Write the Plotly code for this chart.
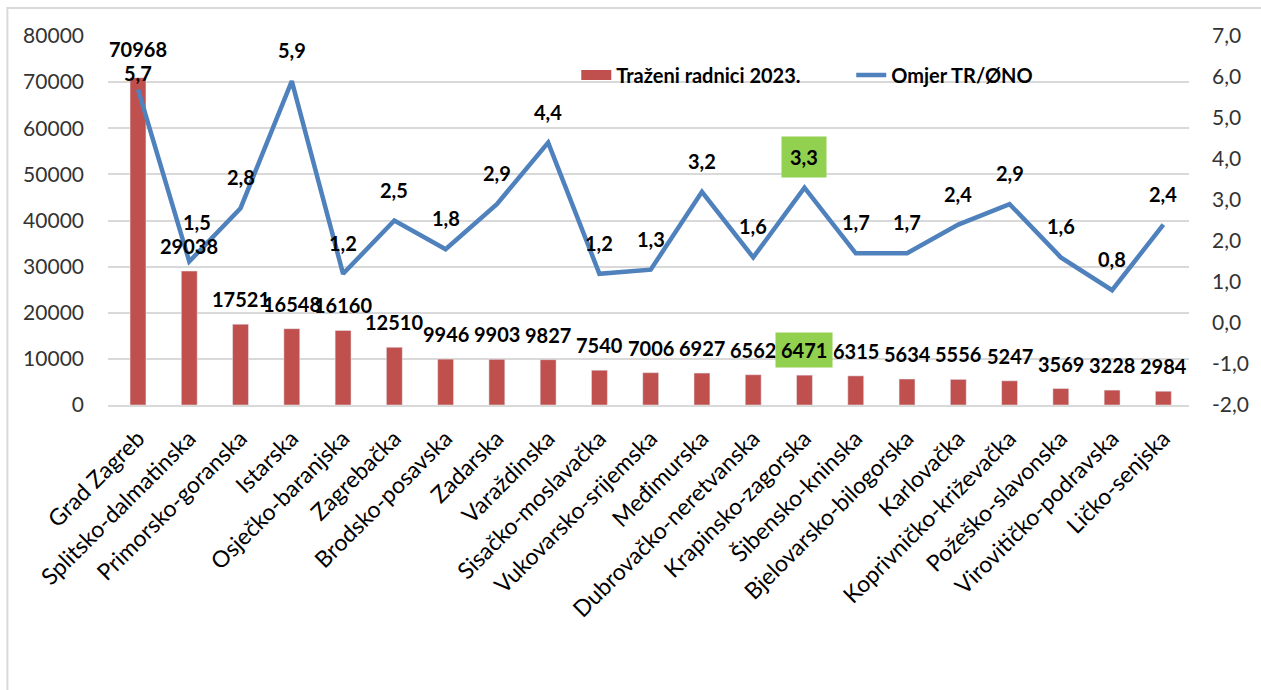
import plotly.graph_objects as go

categories = ["Grad Zagreb", "Splitsko-dalmatinska", "Primorsko-goranska", "Istarska",
              "Osječko-baranjska", "Zagrebačka", "Brodsko-posavska", "Zadarska",
              "Varaždinska", "Sisačko-moslavačka", "Vukovarsko-srijemska", "Međimurska",
              "Dubrovačko-neretvanska", "Krapinsko-zagorska", "Šibensko-kninska",
              "Bjelovarsko-bilogorska", "Karlovačka", "Koprivničko-križevačka",
              "Požeško-slavonska", "Virovitičko-podravska", "Ličko-senjska"]
workers = [70968, 29038, 17521, 16548, 16160, 12510, 9946, 9903, 9827, 7540, 7006,
           6927, 6562, 6471, 6315, 5634, 5556, 5247, 3569, 3228, 2984]
ratio = [5.7, 1.5, 2.8, 5.9, 1.2, 2.5, 1.8, 2.9, 4.4, 1.2, 1.3, 3.2, 1.6, 3.3, 1.7,
         1.7, 2.4, 2.9, 1.6, 0.8, 2.4]
highlight = "Krapinsko-zagorska"

left_ticks = [0, 10000, 20000, 30000, 40000, 50000, 60000, 70000, 80000]
right_ticks = [-2, -1, 0, 1, 2, 3, 4, 5, 6, 7]

BAR = "#C0504D"
LINE = "#4F81BD"
GREEN = "#92D050"
FONT = "Lato"

W, H = 1261, 690
L, R, T, B = 108, 68, 36, 285

fig = go.Figure()
fig.add_trace(go.Bar(x=categories, y=workers, marker_color=BAR, showlegend=False,
                     name="Traženi radnici 2023.", hoverinfo="x+y"))
fig.add_trace(go.Scatter(x=categories, y=ratio, yaxis="y2", mode="lines",
                         line=dict(color=LINE, width=4.5), name="Omjer TR/ØNO",
                         legend="legend2"))
# legend-only entry with a wide red swatch
fig.add_trace(go.Scatter(x=[None], y=[None], mode="lines", line=dict(color=BAR, width=12),
                         name="Traženi radnici 2023.", legend="legend"))

ann = []
lab_font = dict(family=FONT, size=20, color="#000000")
for i, (c, v) in enumerate(zip(categories, workers)):
    ann.append(dict(x=c, y=v, xref="x", yref="y", text=f"<b>{v}</b>", showarrow=False,
                    yshift=29 if i == 0 else 25, font=lab_font,
                    bgcolor=GREEN if c == highlight else "rgba(0,0,0,0)",
                    borderpad=5 if c == highlight else 0))
for i, (c, v) in enumerate(zip(categories, ratio)):
    shift = 16 if i == 0 else (40 if i == 1 else 31)
    ann.append(dict(x=c, y=v, xref="x", yref="y2", text="<b>" + f"{v:.1f}".replace(".", ",") + "</b>",
                    showarrow=False, yshift=shift, xshift=8 if i == 1 else 0, font=lab_font,
                    bgcolor=GREEN if c == highlight else "rgba(0,0,0,0)",
                    borderpad=8 if c == highlight else 0))

pw = W - L - R
ph = H - T - B
def px(xp):
    return (xp - L) / pw
def py(yp):
    return (H - B - yp) / ph

fig.update_layout(
    width=W, height=H,
    margin=dict(l=L, r=R, t=T, b=B, pad=0),
    paper_bgcolor="white", plot_bgcolor="white",
    font=dict(family=FONT, size=21, color="#404040"),
    bargap=0.69,
    annotations=ann,
    xaxis=dict(type="category", tickangle=-45, showgrid=False, showline=True,
               linecolor="#D9D9D9", linewidth=2, ticks="", ticklabelstandoff=9,
               tickfont=dict(family=FONT, size=23, color="#000000"), fixedrange=True),
    yaxis=dict(range=[0, 80000], tickvals=left_ticks, tickformat="d", showgrid=True,
               gridcolor="#D9D9D9", gridwidth=2, zeroline=False, showline=False,
               ticklabelstandoff=23, tickfont=dict(family=FONT, size=21, color="#333333")),
    yaxis2=dict(range=[-2, 7], tickvals=right_ticks,
                ticktext=[f"{t:.1f}".replace(".", ",") for t in right_ticks],
                overlaying="y", side="right", showgrid=False, zeroline=False,
                showline=False, ticklabelstandoff=22,
                tickfont=dict(family=FONT, size=21, color="#333333")),
    legend=dict(x=px(578), y=py(75), xanchor="left", yanchor="middle",
                orientation="h", bgcolor="rgba(0,0,0,0)",
                font=dict(family=FONT, size=20, color="#000000", weight="bold"),
                itemwidth=30),
    legend2=dict(x=px(854), y=py(75), xanchor="left", yanchor="middle",
                 orientation="h", bgcolor="rgba(0,0,0,0)",
                 font=dict(family=FONT, size=20, color="#000000", weight="bold"),
                 itemwidth=30),
    shapes=[dict(type="rect", xref="paper", yref="paper",
                 x0=px(7), x1=px(W + 20), y0=py(H + 20), y1=py(8),
                 line=dict(color="#D9D9D9", width=2), layer="below")],
)

fig.write_html("out.html", config={"displayModeBar": False},
               post_script="document.body.style.margin='0px';")
